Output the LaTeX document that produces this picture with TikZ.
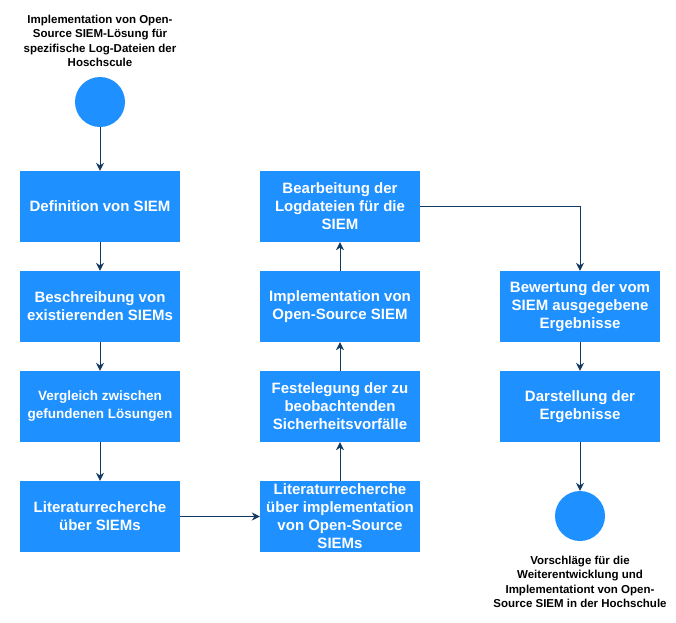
\documentclass[tikz,border=0pt]{standalone}
\usepackage{fontspec}
\setmainfont{Liberation Sans}
\usepackage{tikz}
\usetikzlibrary{arrows.meta}
\definecolor{boxblue}{RGB}{30,144,255}
\definecolor{linkblue}{RGB}{16,58,98}

\begin{document}
\begin{tikzpicture}[x=1pt,y=-1pt,
  stepbox/.style={fill=boxblue,minimum width=160pt,minimum height=71pt,inner sep=0pt,text=white,align=center,font=\fontsize{15}{18}\selectfont\bfseries},
  dot/.style={circle,fill=boxblue,minimum size=50pt,inner sep=0pt},
  caption/.style={align=center,font=\fontsize{11.5}{14.5}\selectfont\bfseries},
  link/.style={draw=linkblue,line width=1pt,-{Stealth[length=8pt,width=8pt]}}]
\useasboundingbox (0,0) rectangle (676,622);

\node[caption] (titel) at (100,41) {Implementation von Open-\\Source SIEM-Lösung für\\spezifische Log-Dateien der\\Hoschscule};
\node[dot] (start) at (100,102) {};

\node[stepbox] (def) at (100,206.5) {Definition von SIEM};
\node[stepbox] (besch) at (100,306.5) {Beschreibung von\\existierenden SIEMs};
\node[stepbox,font=\fontsize{13.5}{18}\selectfont\bfseries] (vergl) at (100,406.5) {Vergleich zwischen\\gefundenen Lösungen};
\node[stepbox] (lit) at (100,516.5) {Literaturrecherche\\über SIEMs};

\node[stepbox] (litimpl) at (340,516.5) {Literaturrecherche\\über implementation\\von Open-Source\\SIEMs};
\node[stepbox] (fest) at (340,406.5) {Festelegung der zu\\beobachtenden\\Sicherheitsvorfälle};
\node[stepbox] (impl) at (340,306.5) {Implementation von\\Open-Source SIEM};
\node[stepbox] (bearb) at (340,206.5) {Bearbeitung der\\Logdateien für die\\SIEM};

\node[stepbox] (bew) at (580,306.5) {Bewertung der vom\\SIEM ausgegebene\\Ergebnisse};
\node[stepbox] (darst) at (580,406.5) {Darstellung der\\Ergebnisse};
\node[dot] (ende) at (580,516) {};
\node[caption] (ausblick) at (580,582) {Vorschläge für die\\Weiterentwicklung und\\Implementationt von Open-\\Source SIEM in der Hochschule};

\draw[link] (start) -- (def);
\draw[link] (def) -- (besch);
\draw[link] (besch) -- (vergl);
\draw[link] (vergl) -- (lit);
\draw[link] (lit) -- (litimpl);
\draw[link] (litimpl) -- (fest);
\draw[link] (fest) -- (impl);
\draw[link] (impl) -- (bearb);
\draw[link] (bearb) -| (bew);
\draw[link] (bew) -- (darst);
\draw[link] (darst) -- (ende);
\end{tikzpicture}
\end{document}
